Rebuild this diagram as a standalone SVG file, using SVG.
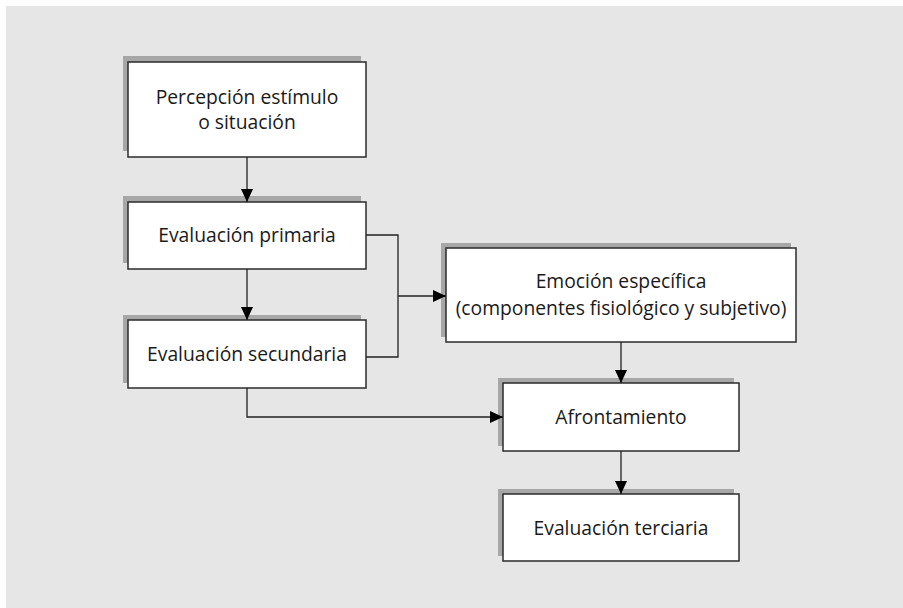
<svg xmlns="http://www.w3.org/2000/svg" width="903" height="608" viewBox="0 0 903 608">
  <style>
    .shadow { fill: #a7a7a7; }
    .box { fill: #ffffff; stroke: #2b2b2b; stroke-width: 1.5; }
    .label { font-family: "Open Sans", "Noto Sans", sans-serif; font-size: 19.3px; fill: #1a1a1a; text-anchor: middle; }
    .wire { fill: none; stroke: #222222; stroke-width: 1.3; }
  </style>
  <defs>
    <marker id="arrow" viewBox="0 0 13 12" refX="13" refY="6" markerWidth="13" markerHeight="12" markerUnits="userSpaceOnUse" orient="auto">
      <path d="M0,0 L13,6 L0,12 Z" fill="#000000"/>
    </marker>
  </defs>

  <!-- panel -->
  <rect x="0" y="0" width="903" height="608" fill="#ffffff"/>
  <rect x="6" y="6" width="897" height="602" fill="#e6e6e6"/>

  <g id="percepcion">
    <rect class="shadow" x="123" y="56" width="238" height="95"/>
    <rect class="box" x="128" y="62" width="238" height="95"/>
    <text class="label" x="247" y="104">Percepción estímulo</text>
    <text class="label" x="247" y="129">o situación</text>
  </g>

  <g id="evaluacion-primaria">
    <rect class="shadow" x="123" y="196" width="238" height="67"/>
    <rect class="box" x="128" y="202" width="238" height="67"/>
    <text class="label" x="247" y="242">Evaluación primaria</text>
  </g>

  <g id="evaluacion-secundaria">
    <rect class="shadow" x="123" y="315" width="238" height="68"/>
    <rect class="box" x="128" y="320" width="238" height="68"/>
    <text class="label" x="247" y="361">Evaluación secundaria</text>
  </g>

  <g id="emocion">
    <rect class="shadow" x="441" y="243" width="350" height="94"/>
    <rect class="box" x="446" y="248" width="350" height="94"/>
    <text class="label" x="621" y="288">Emoción específica</text>
    <text class="label" x="621" y="315">(componentes fisiológico y subjetivo)</text>
  </g>

  <g id="afrontamiento">
    <rect class="shadow" x="498" y="378" width="236" height="68"/>
    <rect class="box" x="503" y="383" width="236" height="68"/>
    <text class="label" x="621" y="424">Afrontamiento</text>
  </g>

  <g id="evaluacion-terciaria">
    <rect class="shadow" x="498" y="489" width="236" height="67"/>
    <rect class="box" x="503" y="494" width="236" height="67"/>
    <text class="label" x="621" y="535">Evaluación terciaria</text>
  </g>

  <!-- connectors, drawn above the box shadows -->
  <g id="connectors">
    <path class="wire" d="M247,157 V202" marker-end="url(#arrow)"/>
    <path class="wire" d="M247,269 V320" marker-end="url(#arrow)"/>
    <path class="wire" d="M366,235 H398 V357 H366"/>
    <path class="wire" d="M398,296 H446" marker-end="url(#arrow)"/>
    <path class="wire" d="M621,342 V383" marker-end="url(#arrow)"/>
    <path class="wire" d="M247,388 V417 H503" marker-end="url(#arrow)"/>
    <path class="wire" d="M621,451 V494" marker-end="url(#arrow)"/>
  </g>
</svg>
